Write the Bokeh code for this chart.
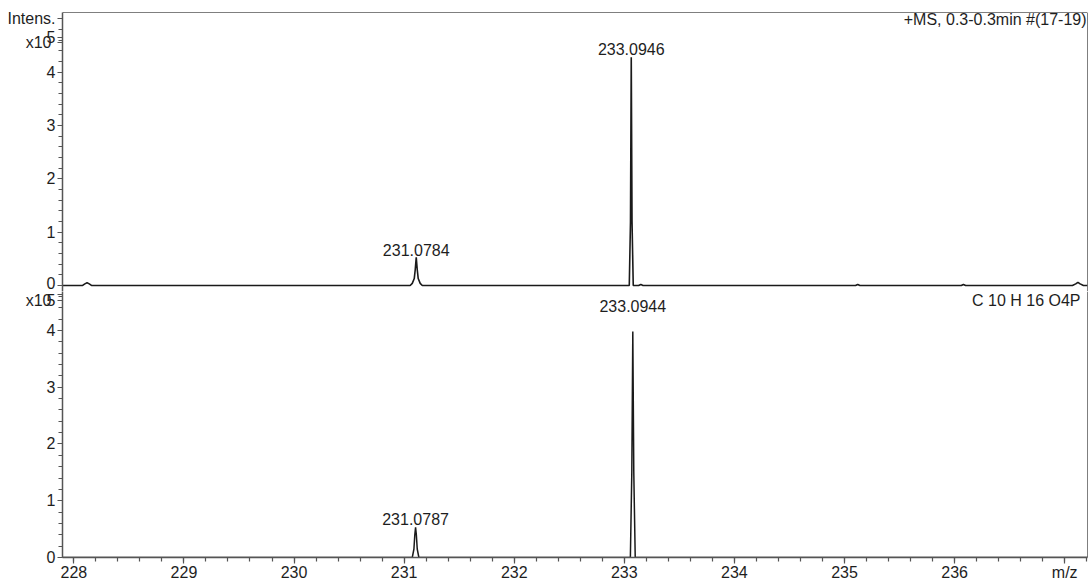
import numpy as np
from bokeh.plotting import figure
from bokeh.layouts import column
from bokeh.models import Range1d, FixedTicker, Label, Span
from bokeh.embed import file_html
from bokeh.resources import INLINE

FONT = "Liberation Sans"
TXT = "#1e1e1e"
FS = "16px"

# ---------------- data ----------------
# upper trace: measured spectrum, intensity in units of 1e5
top_mz = [227.897, 228.08, 228.10, 228.12, 228.14, 228.16,
          231.055, 231.074, 231.092, 231.101, 231.110, 231.119, 231.128, 231.146, 231.165,
          233.045, 233.056, 233.063, 233.070, 233.081,
          233.13, 233.15, 233.17,
          235.10, 235.12, 235.14,
          236.06, 236.08, 236.10,
          237.07, 237.10, 237.12, 237.14, 237.17, 237.207]
top_int = [0, 0, 0.03, 0.05, 0.03, 0,
           0, 0.04, 0.13, 0.30, 0.53, 0.30, 0.13, 0.04, 0,
           0, 1.2, 4.28, 1.2, 0,
           0, 0.02, 0,
           0, 0.02, 0,
           0, 0.02, 0,
           0, 0.03, 0.06, 0.03, 0, 0]

# lower trace: simulated isotope pattern
bot_mz = [227.897, 231.074, 231.089, 231.097, 231.104, 231.111, 231.119, 231.134,
          233.055, 233.068, 233.077, 233.086, 233.099, 237.207]
bot_int = [0, 0, 0.15, 0.40, 0.53, 0.40, 0.15, 0,
           0, 1.5, 3.98, 1.5, 0, 0]

top_peak_mz = [231.110, 233.063]
top_peak_int = [0.53, 4.28]
top_peak_labels = ["231.0784", "233.0946"]

bot_peak_mz = [231.104, 233.077]
bot_peak_int = [0.53, 3.98]
bot_peak_labels = ["231.0787", "233.0944"]

x_ticks = [228, 229, 230, 231, 232, 233, 234, 235, 236, 237]
x_tick_overrides = {237: "m/z"}
top_y_ticks = [0, 1, 2, 3, 4]
bot_y_ticks = [0, 1, 2, 3, 4]

top_title = "+MS, 0.3-0.3min #(17-19)"
bot_title = "C 10 H 16 O4P"
y_title = "Intens."
unit_text = "x10"
unit_exp = "5"

# ---------------- layout ----------------
x_start, x_end = 227.897, 237.207
top_y = (-0.113, 5.12)
bot_y = (0.0, 4.687)
W = 1089


def style_axis(ax, major_out, minor_out):
    ax.axis_line_color = "#555555"
    ax.axis_line_width = 1.5
    ax.major_tick_line_color = "#555555"
    ax.minor_tick_line_color = "#555555"
    ax.major_tick_line_width = 1.2
    ax.minor_tick_line_width = 1.2
    ax.major_tick_out = major_out
    ax.major_tick_in = 0
    ax.minor_tick_out = minor_out
    ax.minor_tick_in = 0
    ax.major_label_text_font = FONT
    ax.major_label_text_font_size = FS
    ax.major_label_text_color = TXT
    ax.major_label_standoff = 2


def lab(p, text, x, y, xo=0, yo=0, align="center", baseline="alphabetic"):
    p.add_layout(Label(x=x, y=y, text=text, x_offset=xo, y_offset=yo,
                       text_align=align, text_baseline=baseline,
                       text_font=FONT, text_font_size=FS, text_color=TXT))


top = figure(width=W, height=291, output_backend="svg", toolbar_location=None,
             x_range=Range1d(x_start, x_end), y_range=Range1d(*top_y),
             x_axis_location=None,
             min_border_left=62, min_border_right=2, min_border_top=12, min_border_bottom=0)
bot = figure(width=W, height=292, output_backend="svg", toolbar_location=None,
             x_range=top.x_range, y_range=Range1d(*bot_y),
             min_border_left=62, min_border_right=2, min_border_top=0, min_border_bottom=26)

for p in (top, bot):
    p.outline_line_color = None
    p.grid.grid_line_color = None
    p.background_fill_color = "white"
    p.border_fill_color = "white"
    p.add_layout(Span(location=x_end, dimension="height", line_color="black", line_width=1))

top.add_layout(Span(location=top_y[1], dimension="width", line_color="black", line_width=1))

# y axes: unit texts live on extra ticks of the axis itself
style_axis(top.yaxis[0], 5, 4)
top.yaxis[0].ticker = FixedTicker(ticks=top_y_ticks + [4.56, 4.66, 5],
                                  minor_ticks=list(np.round(np.arange(0, 5.01, 0.2), 2)))
top.yaxis[0].major_label_overrides = {4.56: unit_text + "\u2005", 4.66: unit_exp, 5: y_title}

style_axis(bot.yaxis[0], 5, 4)
bot.yaxis[0].ticker = FixedTicker(ticks=bot_y_ticks + [4.52, 4.63],
                                  minor_ticks=list(np.round(np.arange(0, 4.61, 0.2), 2)))
bot.yaxis[0].major_label_overrides = {4.52: unit_text + "\u2005", 4.63: unit_exp}

# x axis
style_axis(bot.xaxis[0], 6, 4)
bot.xaxis[0].ticker = FixedTicker(ticks=x_ticks,
                                  minor_ticks=list(np.round(np.arange(228, 237.21, 0.2), 2)))
bot.xaxis[0].major_label_overrides = x_tick_overrides
bot.xaxis[0].major_label_standoff = 0

# traces
top.line(top_mz, top_int, line_color="#1a1a1a", line_width=1.6)
bot.line(bot_mz, bot_int, line_color="#1a1a1a", line_width=1.5)

# peak labels
for mz, it, t, off in zip(top_peak_mz, top_peak_int, top_peak_labels, [7, 8]):
    lab(top, t, mz, it, yo=off)
for mz, it, t, off in zip(bot_peak_mz, bot_peak_int, bot_peak_labels, [8, 26]):
    lab(bot, t, mz, it, yo=off)

# corner texts
lab(top, top_title, x_end, top_y[1], xo=-1, yo=2, align="right", baseline="top")
lab(bot, bot_title, x_end, bot_y[1], xo=-7, yo=0, align="right", baseline="top")

layout = column(top, bot, spacing=0)
open("out.html", "w").write(file_html(layout, INLINE))
